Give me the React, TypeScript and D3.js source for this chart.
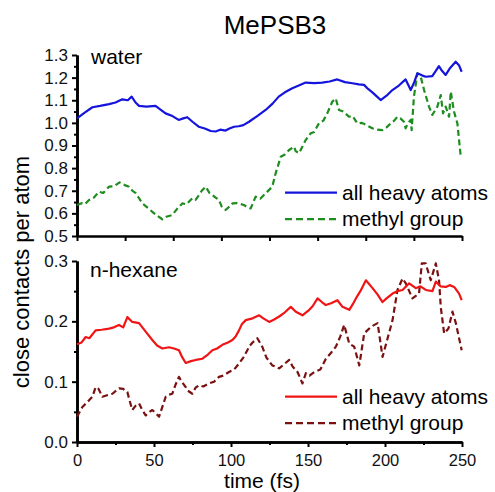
import * as d3 from 'd3';
import { useEffect, useRef } from 'react';

// [time (fs), contacts per atom]
const waterAll: [number, number][] = [
  [0, 1.02], [5, 1.045], [10, 1.069], [15, 1.075], [20.8, 1.083], [25, 1.09], [29.4, 1.104], [33, 1.1],
  [35.5, 1.116], [38, 1.09], [40.3, 1.075], [45, 1.072], [51, 1.075], [54, 1.06], [57.5, 1.042], [62, 1.03],
  [66, 1.013], [69, 1.02], [71.6, 1.025], [75, 1.005], [79, 0.983], [83, 0.975], [86.8, 0.964], [90, 0.962],
  [93, 0.97], [96.5, 0.966], [99, 0.975], [102, 0.983], [105, 0.985], [108, 0.99], [111.7, 1.005], [117, 1.03],
  [122.5, 1.057], [127, 1.085], [131, 1.116], [135, 1.135], [139.8, 1.153], [144, 1.165], [148.5, 1.178],
  [154, 1.176], [159.3, 1.178], [164, 1.183], [169, 1.192], [174, 1.18], [178.8, 1.175], [183, 1.17],
  [186.4, 1.168], [189, 1.15], [191.8, 1.135], [195, 1.115], [197.2, 1.101], [201, 1.12], [204.8, 1.145],
  [209, 1.165], [213.4, 1.192], [216.7, 1.145], [219, 1.18], [221, 1.219], [224, 1.21], [226.4, 1.204],
  [230.7, 1.207], [233, 1.23], [235, 1.251], [237, 1.23], [239.4, 1.212], [242, 1.24], [245.9, 1.27],
  [248, 1.255], [249.8, 1.226],
];

const waterMethyl: [number, number][] = [
  [0, 0.637], [3, 0.645], [5, 0.64], [7.8, 0.659], [11, 0.67], [14.3, 0.696], [17, 0.69], [20.8, 0.718],
  [24, 0.72], [27.7, 0.737], [31, 0.725], [33.8, 0.718], [36, 0.7], [38.1, 0.689], [40, 0.67], [42.4, 0.644],
  [45, 0.63], [48.9, 0.607], [52, 0.59], [55.4, 0.574], [58, 0.585], [61.9, 0.593], [65, 0.62], [68.4, 0.644],
  [71, 0.64], [74.9, 0.667], [77, 0.66], [79.2, 0.681], [81, 0.7], [83.6, 0.718], [86, 0.69], [87.9, 0.681],
  [90, 0.67], [92.2, 0.659], [94, 0.63], [96.5, 0.615], [99, 0.63], [100.9, 0.644], [104, 0.645],
  [108.4, 0.637], [110, 0.63], [112.8, 0.622], [116, 0.674], [119, 0.665], [123.6, 0.696], [126.8, 0.718],
  [129, 0.777], [132.3, 0.85], [135, 0.86], [137.7, 0.88], [140.9, 0.895], [142, 0.875], [144.2, 0.866],
  [148.5, 0.924], [151.8, 0.954], [154, 0.96], [157.1, 0.998], [160, 1.01], [162.5, 1.042], [165.8, 1.094],
  [168, 1.108], [170.1, 1.057], [173, 1.05], [176.6, 1.027], [179, 1.03], [182, 0.998], [185, 1.0],
  [188, 0.99], [191.8, 0.976], [195, 0.97], [198.3, 0.968], [201, 0.98], [203.7, 0.998], [206, 1.01],
  [208, 1.027], [210, 1.02], [212.3, 1.005], [213.4, 0.976], [215, 1.0], [216.7, 1.013], [217.3, 0.968],
  [218.8, 1.116], [221, 1.219], [223.2, 1.204], [225.4, 1.145], [228.6, 1.072], [230.7, 1.035], [234, 1.072],
  [236.2, 1.123], [237.7, 1.042], [239.4, 1.072], [241.6, 1.027], [242.7, 1.138], [244.8, 1.05], [247, 0.998],
  [249.2, 0.85],
];

const hexaneAll: [number, number][] = [
  [0, 0.162], [3, 0.165], [5.6, 0.174], [8, 0.172], [12.1, 0.185], [16, 0.186], [20.8, 0.188], [24, 0.19],
  [27.3, 0.194], [30, 0.19], [32.7, 0.207], [35.9, 0.199], [40.3, 0.197], [44.6, 0.183], [48.9, 0.169],
  [52, 0.16], [55.4, 0.155], [59.7, 0.157], [63, 0.155], [66.2, 0.152], [68, 0.142], [70.6, 0.131],
  [74, 0.134], [77.1, 0.136], [81.4, 0.138], [85, 0.145], [87.9, 0.152], [91, 0.155], [94.4, 0.161],
  [98, 0.165], [100.9, 0.169], [103, 0.175], [105.2, 0.185], [107, 0.195], [109.6, 0.202], [114, 0.205],
  [118.3, 0.21], [121, 0.205], [124.8, 0.199], [128, 0.203], [131.3, 0.208], [135, 0.215], [138.8, 0.224],
  [142.1, 0.216], [146.4, 0.21], [150.8, 0.219], [153, 0.225], [156.2, 0.238], [159, 0.232], [161.6, 0.227],
  [165, 0.23], [169.1, 0.235], [172.4, 0.224], [176.8, 0.219], [179, 0.228], [181.1, 0.238], [184, 0.25],
  [187.6, 0.268], [191.9, 0.255], [195, 0.245], [198.4, 0.232], [201, 0.238], [204.9, 0.246], [208, 0.25],
  [211.4, 0.252], [215.7, 0.263], [220, 0.255], [223, 0.258], [226.5, 0.252], [230.8, 0.25], [233, 0.266],
  [236, 0.258], [239.5, 0.257], [242, 0.26], [244.9, 0.257], [248.1, 0.246], [249.8, 0.235],
];

const hexaneMethyl: [number, number][] = [
  [0, 0.042], [3.5, 0.058], [7.8, 0.069], [10, 0.075], [12.1, 0.091], [14, 0.088], [16.5, 0.075], [20, 0.078],
  [23, 0.08], [27.3, 0.089], [30, 0.088], [32.7, 0.083], [34, 0.07], [35.9, 0.053], [38, 0.06], [40.3, 0.064],
  [42, 0.055], [44.6, 0.044], [46, 0.048], [48.9, 0.053], [51, 0.048], [53.3, 0.042], [55, 0.055],
  [57.6, 0.075], [59, 0.078], [61.9, 0.08], [64, 0.095], [66.2, 0.108], [68, 0.1], [70.6, 0.091], [72, 0.085],
  [74.9, 0.08], [77, 0.09], [79.2, 0.094], [82, 0.092], [85.7, 0.097], [89, 0.1], [92.2, 0.108], [95, 0.11],
  [98.7, 0.116], [102, 0.12], [105.2, 0.13], [108, 0.14], [110.6, 0.152], [111.7, 0.158], [114, 0.165],
  [117.1, 0.172], [120.3, 0.158], [123, 0.14], [126.8, 0.127], [129, 0.125], [131.3, 0.122], [135, 0.13],
  [137.8, 0.136], [140, 0.125], [143.2, 0.116], [146.4, 0.097], [148.6, 0.114], [151, 0.11], [154, 0.116],
  [158, 0.12], [161.6, 0.138], [165, 0.148], [168.1, 0.158], [171, 0.175], [173.5, 0.194], [176.8, 0.163],
  [180, 0.158], [183.3, 0.127], [186.5, 0.18], [190.9, 0.191], [195.2, 0.197], [198.4, 0.141], [201.7, 0.172],
  [204.9, 0.202], [208.1, 0.252], [211.4, 0.271], [213.5, 0.263], [217.8, 0.238], [222.1, 0.246],
  [223.9, 0.296], [226.4, 0.296], [229.7, 0.268], [233, 0.296], [235.1, 0.268], [236.2, 0.224], [238.4, 0.18],
  [241.2, 0.188], [243.8, 0.216], [246, 0.197], [249.8, 0.152],
];

const legendLabels = ['all heavy atoms', 'methyl group'];
const xTicksMajor = [0, 50, 100, 150, 200, 250];
const xTicksMinor = [25, 75, 125, 175, 225];
const xTicksTop = d3.range(0, 251, 31.25);

const FONT = 'Liberation Sans, Arial, sans-serif';

export default function App() {
  const ref = useRef<SVGSVGElement | null>(null);

  useEffect(() => {
    if (!ref.current) return;
    const svg = d3.select(ref.current);
    svg.selectAll('*').remove();

    const x = d3.scaleLinear().domain([0, 250]).range([77, 462]);
    const yTop = d3.scaleLinear().domain([0.5, 1.3]).range([236, 55]);
    const yBot = d3.scaleLinear().domain([0, 0.3]).range([442, 261]);

    // title
    svg.append('text')
      .attr('x', 275).attr('y', 34)
      .attr('text-anchor', 'middle')
      .style('font-family', FONT).style('font-size', '26px')
      .text('MePSB3');

    const styleAxis = (size: number) => (g: d3.Selection<SVGGElement, unknown, null, undefined>) => {
      g.select('.domain').attr('stroke-width', 2.6);
      g.selectAll('.tick line').attr('stroke-width', 2);
      g.selectAll('.tick text').style('font-family', FONT).style('font-size', `${size}px`).attr('fill', '#111');
    };

    // y axes
    const yAxisPanel = (y: d3.ScaleLinear<number, number>, major: number[], minor: number[]) => {
      svg.append('g')
        .attr('transform', 'translate(77,0)')
        .call(d3.axisLeft(y).tickValues(minor).tickSize(3).tickFormat(() => '').tickSizeOuter(0))
        .call(styleAxis(17));
      svg.append('g')
        .attr('transform', 'translate(77,0)')
        .call(d3.axisLeft(y).tickValues(major).tickSize(5).tickPadding(4)
          .tickFormat(d3.format('.1f') as any).tickSizeOuter(0))
        .call(styleAxis(17));
    };
    yAxisPanel(yTop, d3.range(5, 14).map(d => d / 10), d3.range(5, 13).map(d => d / 10 + 0.05));
    yAxisPanel(yBot, [0, 0.1, 0.2, 0.3], [0.05, 0.15, 0.25]);

    // x axes
    svg.append('g')
      .attr('transform', 'translate(0,236)')
      .call(d3.axisBottom(x).tickValues(xTicksTop).tickSize(5).tickFormat(() => '').tickSizeOuter(0))
      .call(styleAxis(16));
    svg.append('g')
      .attr('transform', 'translate(0,442)')
      .call(d3.axisBottom(x).tickValues(xTicksMinor).tickSize(3).tickFormat(() => '').tickSizeOuter(0))
      .call(styleAxis(16));
    svg.append('g')
      .attr('transform', 'translate(0,442)')
      .call(d3.axisBottom(x).tickValues(xTicksMajor).tickSize(5).tickPadding(7).tickSizeOuter(0))
      .call(styleAxis(16.5));

    // axis titles
    svg.append('text')
      .attr('x', 262).attr('y', 488)
      .attr('text-anchor', 'middle')
      .style('font-family', FONT).style('font-size', '21px')
      .text('time (fs)');
    svg.append('text')
      .attr('transform', 'translate(29,272) rotate(-90)')
      .attr('text-anchor', 'middle')
      .style('font-family', FONT).style('font-size', '22px')
      .text('close contacts per atom');

    // panel labels
    svg.append('text')
      .attr('x', 91).attr('y', 64)
      .style('font-family', FONT).style('font-size', '21px')
      .text('water');
    svg.append('text')
      .attr('x', 90).attr('y', 277)
      .style('font-family', FONT).style('font-size', '21px')
      .text('n-hexane');

    const drawLine = (data: [number, number][], y: d3.ScaleLinear<number, number>, color: string, dashed: boolean) => {
      const line = d3.line<[number, number]>().x(d => x(d[0])).y(d => y(d[1]));
      svg.append('path')
        .datum(data)
        .attr('fill', 'none')
        .attr('stroke', color)
        .attr('stroke-width', 2.2)
        .attr('stroke-linejoin', 'round')
        .attr('stroke-dasharray', dashed ? '6,3.5' : null)
        .attr('d', line);
    };

    const blue = '#1414dc';
    const green = '#1e8c1e';
    const red = '#f01414';
    const darkRed = '#7a1010';

    drawLine(waterMethyl, yTop, green, true);
    drawLine(waterAll, yTop, blue, false);
    drawLine(hexaneMethyl, yBot, darkRed, true);
    drawLine(hexaneAll, yBot, red, false);

    // legends
    const legend = (y0: number, colors: string[]) => {
      colors.forEach((c, i) => {
        const yy = y0 + i * 26.5;
        svg.append('line')
          .attr('x1', 285).attr('x2', 337).attr('y1', yy).attr('y2', yy)
          .attr('stroke', c).attr('stroke-width', 2.2)
          .attr('stroke-dasharray', i === 1 ? '7,4' : null);
        svg.append('text')
          .attr('x', 342).attr('y', yy + 7)
          .style('font-family', FONT).style('font-size', '21px')
          .text(legendLabels[i]);
      });
    };
    legend(192.7, [blue, green]);
    legend(396.7, [red, darkRed]);
  }, []);

  return (
    <svg
      ref={ref}
      width={495}
      height={492}
      style={{ position: 'absolute', left: 0, top: 0, background: '#fff' }}
    />
  );
}
